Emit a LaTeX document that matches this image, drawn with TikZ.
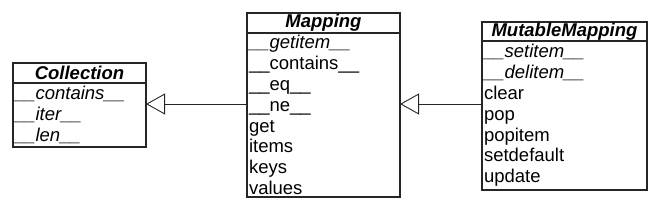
\documentclass[tikz,border=0pt]{standalone}
\usepackage{fontspec}
\setmainfont{Liberation Sans}
\usetikzlibrary{arrows.meta,positioning}

\begin{document}
\begin{tikzpicture}[x=1pt, y=1pt,
    cls/.style={draw=black!85, line width=1.1pt, inner xsep=2pt, inner ysep=0pt, outer sep=0pt,
      font=\fontsize{18.5}{20.8}\selectfont},
    ttl/.style={cls, minimum height=20pt, font=\fontsize{18.5}{20.8}\selectfont\bfseries\itshape},
    body/.style={cls, align=left, below=0pt of #1},
    inh/.style={-{Triangle[open, length=19pt, width=21pt]}, line width=0.9pt, black!85}
]
\useasboundingbox (0,0) rectangle (661,201);
\coordinate (lvl) at (0,97);

% Collection
\node[ttl, minimum width=133pt] (coll) at (79.5,128) {Collection};
\node[body=coll, text width=129pt, minimum height=64pt] (collb)
  {\textit{\_\_contains\_\_}\\\textit{\_\_iter\_\_}\\\textit{\_\_len\_\_}};

% Mapping
\node[ttl, minimum width=153pt] (map) at (323.5,178) {Mapping};
\node[body=map, text width=149pt, minimum height=164pt] (mapb)
  {\textit{\_\_getitem\_\_}\\\_\_contains\_\_\\\_\_eq\_\_\\\_\_ne\_\_\\get\\items\\keys\\values};

% MutableMapping
\node[ttl, minimum width=165pt, minimum height=19pt] (mut) at (564.5,169.5) {MutableMapping};
\node[body=mut, text width=161pt, minimum height=149pt] (mutb)
  {\textit{\_\_setitem\_\_}\\\textit{\_\_delitem\_\_}\\clear\\pop\\popitem\\setdefault\\update};

\draw[inh] (mapb.west |- lvl) -- (collb.east |- lvl);
\draw[inh] (mutb.west |- lvl) -- (mapb.east |- lvl);
\end{tikzpicture}
\end{document}
